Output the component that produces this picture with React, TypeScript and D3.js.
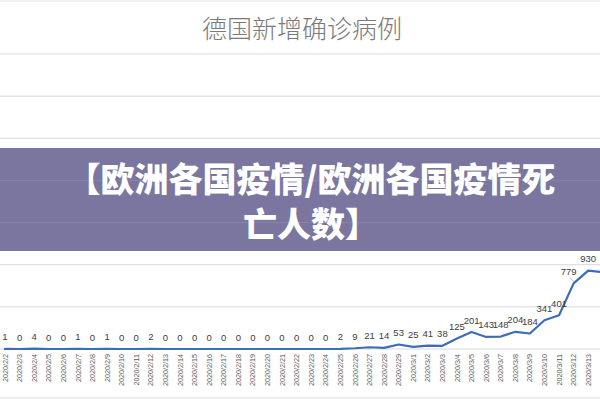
import * as d3 from "d3";

const dates = [
  "2020/2/2", "2020/2/3", "2020/2/4", "2020/2/5", "2020/2/6", "2020/2/7", "2020/2/8",
  "2020/2/9", "2020/2/10", "2020/2/11", "2020/2/12", "2020/2/13", "2020/2/14", "2020/2/15",
  "2020/2/16", "2020/2/17", "2020/2/18", "2020/2/19", "2020/2/20", "2020/2/21", "2020/2/22",
  "2020/2/23", "2020/2/24", "2020/2/25", "2020/2/26", "2020/2/27", "2020/2/28", "2020/2/29",
  "2020/3/1", "2020/3/2", "2020/3/3", "2020/3/4", "2020/3/5", "2020/3/6", "2020/3/7",
  "2020/3/8", "2020/3/9", "2020/3/10", "2020/3/11", "2020/3/12", "2020/3/13", "2020/3/14",
];

const newCases = [
  1, 0, 4, 0, 0, 1, 0,
  1, 0, 0, 2, 0, 0, 0,
  0, 0, 0, 0, 0, 0, 0,
  0, 0, 2, 9, 21, 14, 53,
  25, 41, 38, 125, 201, 143, 148,
  204, 184, 341, 401, 779, 930, 910,
];

const yTicks = [0, 500, 1000, 1500, 2000, 2500, 3000, 3500];

const chartTitle = "德国新增确诊病例";
const bannerLines = ["【欧洲各国疫情/欧洲各国疫情死", "亡人数】"];

const width = 600;
const height = 400;
const band = { top: 148, bottom: 251 };

export default function App() {
  const x = d3.scalePoint<string>().domain(dates).range([5, 5 + 14.58 * (dates.length - 1)]);
  const y = d3.scaleLinear().domain([0, 3500]).range([349, 54]);

  const points = dates.map((date, i) => ({ date, value: newCases[i] }));
  const line = d3
    .line<(typeof points)[number]>()
    .x((p) => x(p.date) ?? 0)
    .y((p) => y(p.value))(points);

  // the last point sits on the right crop edge, its labels are cut away
  const labelled = points.slice(0, -1);

  return (
    <div style={{ position: "absolute", left: 0, top: 0 }}>
      <svg width={width} height={height} style={{ display: "block", background: "#fff" }}>
        <line x1={0} x2={width} y1={1} y2={1} stroke="#e3e3e3" />
        <text x={302} y={38} textAnchor="middle" fontFamily="'Noto Sans CJK SC'" fontSize={25} fontWeight={300} fill="#7a7a7a">
          {chartTitle}
        </text>

        {yTicks.map((t) => (
          <line key={`g-${t}`} x1={0} x2={width} y1={y(t)} y2={y(t)} stroke="#d9d9d9" strokeWidth={1} />
        ))}
        <line x1={0} x2={width} y1={398} y2={398} stroke="#dcdcdc" />

        {labelled.map((p) => (
          <text
            key={p.date}
            transform={`translate(${(x(p.date) ?? 0) + 2.6}, 354) rotate(-90)`}
            textAnchor="end"
            fontFamily="'Liberation Sans', Arial"
            fontSize={7.2}
            fill="#595959"
          >
            {p.date}
          </text>
        ))}

        <path d={line ?? ""} fill="none" stroke="#3d6db5" strokeWidth={2.2} strokeLinejoin="round" strokeLinecap="round" />

        {labelled.map((p) => {
          const isLeader = p.value === 779;
          const px = x(p.date) ?? 0;
          const py = y(p.value);
          return (
            <g key={`l-${p.date}`}>
              {isLeader ? <line x1={570} x2={574} y1={py - 6} y2={py - 1.5} stroke="#a6a6a6" strokeWidth={0.8} /> : null}
              <text
                x={isLeader ? px - 5 : px}
                y={py - 8.5}
                textAnchor="middle"
                fontFamily="'Liberation Sans', Arial"
                fontSize={9.5}
                fill="#404040"
              >
                {p.value}
              </text>
            </g>
          );
        })}

        <rect x={0} y={band.top} width={width} height={band.bottom - band.top} fill="#6f6a98" fillOpacity={0.92} />
        {yTicks
          .filter((t) => y(t) > band.top && y(t) < band.bottom)
          .map((t) => (
            <line key={`bg-${t}`} x1={0} x2={width} y1={y(t)} y2={y(t)} stroke="#fff" strokeOpacity={0.12} />
          ))}
        {bannerLines.map((s, i) => (
          <text
            key={s}
            x={311}
            y={191.5 + i * 45}
            textAnchor="middle"
            fontFamily="'Noto Sans CJK SC'"
            fontSize={34}
            fontWeight={900}
            fill="#fff"
          >
            {s}
          </text>
        ))}
      </svg>
    </div>
  );
}
